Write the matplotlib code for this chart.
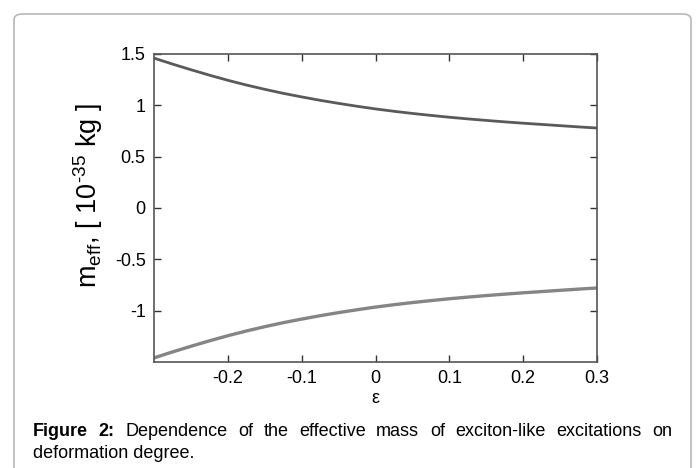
import numpy as np
import matplotlib
matplotlib.use("Agg")
import matplotlib.pyplot as plt
from matplotlib.patches import FancyBboxPatch

plt.rcParams.update({
    "font.family": ["Liberation Sans", "DejaVu Sans"],
    "mathtext.fontset": "custom",
    "mathtext.rm": "Liberation Sans",
    "mathtext.it": "Liberation Sans:italic",
    "mathtext.bf": "Liberation Sans:bold",
})

# deformation degree and effective mass
eps = [-0.300, -0.275, -0.250, -0.225, -0.200, -0.175, -0.150, -0.125, -0.100,
       -0.075, -0.050, -0.025, 0.000, 0.025, 0.050, 0.075, 0.100, 0.125,
       0.150, 0.175, 0.200, 0.225, 0.250, 0.275, 0.300]
m_upper = [1.460, 1.402, 1.347, 1.294, 1.244, 1.198, 1.156, 1.117, 1.082,
           1.049, 1.019, 0.991, 0.965, 0.942, 0.921, 0.902, 0.884, 0.868,
           0.853, 0.839, 0.826, 0.814, 0.802, 0.790, 0.779]
m_lower = [-v for v in m_upper]

xticks = [-0.2, -0.1, 0, 0.1, 0.2, 0.3]
xticklabels = ["-0.2", "-0.1", "0", "0.1", "0.2", "0.3"]
yticks = [-1, -0.5, 0, 0.5, 1, 1.5]
yticklabels = ["-1", "-0.5", "0", "0.5", "1", "1.5"]

W, H = 697, 468
fig = plt.figure(figsize=(W / 100, H / 100), dpi=100)
fig.patch.set_facecolor("white")

# rounded frame around the figure + caption
frame = FancyBboxPatch((14 / W, -20 / H), 677 / W, 474 / H,
                       boxstyle="round,pad=0,rounding_size=0.012",
                       transform=fig.transFigure, facecolor="none",
                       edgecolor="#b8b8b8", linewidth=1.2)
fig.patches.append(frame)

ax = fig.add_axes([154 / W, 1 - 362 / H, 443 / W, 308 / H])
ax.plot(eps, m_upper, color="#5a5a5a", linewidth=2.0)
ax.plot(eps, m_lower, color="#858585", linewidth=2.4)

ax.set_xlim(-0.3, 0.3)
ax.set_ylim(-1.5, 1.5)
ax.set_xticks(xticks)
ax.set_xticklabels(xticklabels)
ax.set_yticks(yticks)
ax.set_yticklabels(yticklabels)
ax.tick_params(direction="in", top=True, right=True, length=5,
               width=1, color="#333333", labelsize=13, pad=6)
for s in ax.spines.values():
    s.set_color("#555555")
    s.set_linewidth(1.2)

ax.set_xlabel("ε", fontsize=13, labelpad=2)
ax.set_ylabel(r"m$_{\rm eff}$, [ 10$^{\text{-35}}$ kg ]", fontsize=19.5)
ax.yaxis.set_label_coords(-0.11, 0.54)

# justified caption
x0, x1 = 33, 672
words = [("Figure", "bold"), ("2:", "bold"), ("Dependence", "normal"), ("of", "normal"),
         ("the", "normal"), ("effective", "normal"), ("mass", "normal"), ("of", "normal"),
         ("exciton-like", "normal"), ("excitations", "normal"), ("on", "normal")]
fig.canvas.draw()
r = fig.canvas.get_renderer()
texts = []
for w, wt in words:
    t = fig.text(0, 1 - 431 / H, w, fontsize=13, fontweight=wt, va="center", ha="left")
    texts.append(t)
widths = [t.get_window_extent(r).width for t in texts]
gap = (x1 - x0 - sum(widths)) / (len(words) - 1)
x = x0
for t, w in zip(texts, widths):
    t.set_x(x / W)
    x += w + gap
fig.text(x0 / W, 1 - 454 / H, "deformation degree.", fontsize=13, va="center", ha="left")

fig.savefig("out.png", dpi=100)
